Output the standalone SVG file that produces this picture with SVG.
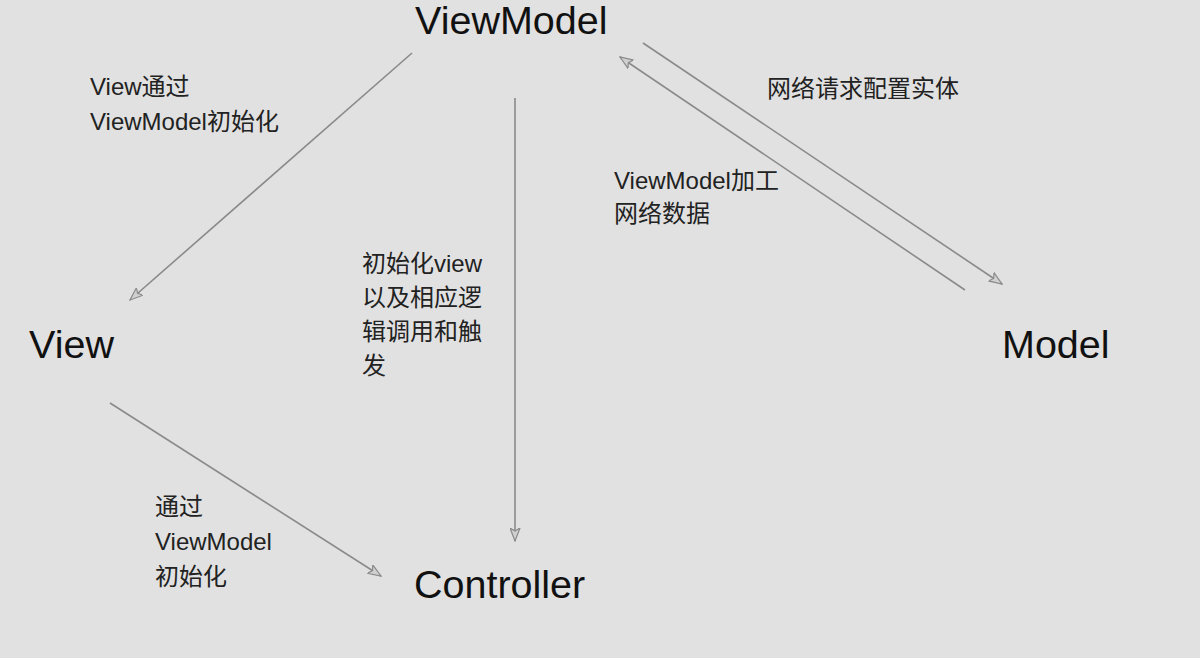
<svg xmlns="http://www.w3.org/2000/svg" width="1200" height="658" viewBox="0 0 1200 658">
<style>
.big{font-family:"Liberation Sans","Noto Sans CJK SC",sans-serif;font-size:39.5px;fill:#111}
.lbl{font-family:"Liberation Sans","Noto Sans CJK SC",sans-serif;font-size:24px;fill:#222}
.ln{stroke:#8a8a8a;stroke-width:1.6;fill:none;marker-end:url(#ah)}
</style>
<defs>
<marker id="ah" viewBox="0 0 14 11" refX="13" refY="5.5" markerWidth="14" markerHeight="11" markerUnits="userSpaceOnUse" orient="auto">
<path d="M0,0.5 L13,5.5 L0,10.5 L3,5.5 Z" fill="#d0d0d0" stroke="#8a8a8a" stroke-width="1.2"/>
</marker>
</defs>
<rect width="1200" height="658" fill="#e1e1e1"/>
<g id="connectors">
<line class="ln" x1="412" y1="53" x2="130" y2="300"/>
<line class="ln" x1="515" y1="98" x2="515" y2="541"/>
<line class="ln" x1="643" y1="43" x2="1002" y2="284"/>
<line class="ln" x1="965" y1="290" x2="620" y2="57"/>
<line class="ln" x1="110" y1="403" x2="381" y2="576"/>
</g>
<g id="viewmodel"><text class="big" x="415" y="34">ViewModel</text></g>
<g id="view"><text class="big" x="29" y="358">View</text></g>
<g id="model"><text class="big" x="1002" y="358">Model</text></g>
<g id="controller"><text class="big" x="414" y="598">Controller</text></g>
<g id="labels">
<text class="lbl" x="90" y="95">View通过</text>
<text class="lbl" x="90" y="130">ViewModel初始化</text>
<text class="lbl" x="767" y="97">网络请求配置实体</text>
<text class="lbl" x="614" y="189">ViewModel加工</text>
<text class="lbl" x="614" y="222">网络数据</text>
<text class="lbl" x="362" y="272">初始化view</text>
<text class="lbl" x="362" y="306">以及相应逻</text>
<text class="lbl" x="362" y="340">辑调用和触</text>
<text class="lbl" x="362" y="374">发</text>
<text class="lbl" x="155" y="515">通过</text>
<text class="lbl" x="155" y="550">ViewModel</text>
<text class="lbl" x="155" y="585">初始化</text>
</g>
</svg>
